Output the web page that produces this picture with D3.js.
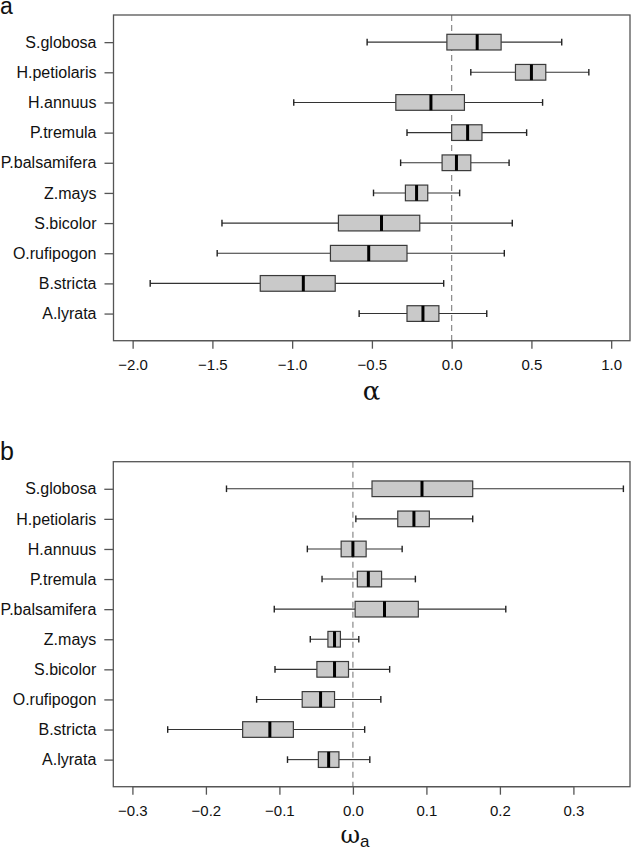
<!DOCTYPE html>
<html>
<head>
<meta charset="utf-8">
<script src="https://cdn.jsdelivr.net/npm/d3@7"></script>
<style>
  body { margin: 0; background: #fff; }
  svg { display: block; font-family: "Liberation Sans", Arial, sans-serif; }
</style>
</head>
<body>
<div id="canvas"></div>
<script>
// species, top to bottom
var species = ['S.globosa','H.petiolaris','H.annuus','P.tremula','P.balsamifera',
               'Z.mays','S.bicolor','O.rufipogon','B.stricta','A.lyrata'];

// panel a: alpha
var alphaLow  = [-0.53, 0.12, -0.99, -0.28, -0.32, -0.49, -1.44, -1.47, -1.89, -0.58];
var alphaQ1   = [-0.03, 0.40, -0.35,  0.00, -0.06, -0.29, -0.71, -0.76, -1.20, -0.28];
var alphaMed  = [ 0.16, 0.50, -0.13,  0.10,  0.03, -0.22, -0.44, -0.52, -0.93, -0.18];
var alphaQ3   = [ 0.31, 0.59,  0.08,  0.19,  0.12, -0.15, -0.20, -0.28, -0.73, -0.08];
var alphaHigh = [ 0.69, 0.86,  0.57,  0.47,  0.36,  0.05,  0.38,  0.33, -0.05,  0.22];
var alphaTicks = [-2.0, -1.5, -1.0, -0.5, 0.0, 0.5, 1.0];

// panel b: omega_a
var omegaLow  = [-0.172, 0.004, -0.062, -0.042, -0.107, -0.058, -0.106, -0.131, -0.252, -0.089];
var omegaQ1   = [ 0.026, 0.061, -0.016,  0.006,  0.003, -0.034, -0.049, -0.069, -0.150, -0.047];
var omegaMed  = [ 0.094, 0.083,  0.000,  0.021,  0.043, -0.025, -0.025, -0.044, -0.113, -0.033];
var omegaQ3   = [ 0.163, 0.104,  0.018,  0.039,  0.089, -0.017, -0.006, -0.025, -0.081, -0.019];
var omegaHigh = [ 0.368, 0.163,  0.067,  0.085,  0.208,  0.008,  0.050,  0.038,  0.016,  0.023];
var omegaTicks = [-0.3, -0.2, -0.1, 0.0, 0.1, 0.2, 0.3];

var W = 631, H = 853;
var svg = d3.select('#canvas').append('svg')
    .attr('width', W)
    .attr('height', H);

function drawPanel(cfg){
    var g = svg.append('g');
    var x = d3.scaleLinear().domain(cfg.domain).range([cfg.left, cfg.right]);
    var y = d3.scaleLinear().domain([0.1, 10.9]).range([cfg.bottom, cfg.top]);
    var step = y(1) - y(2);
    var boxH = step * 0.52, staple = step * 0.11;

    var rows = species.map(function(s, i){
        return {name: s, pos: 10 - i, lo: cfg.lo[i], q1: cfg.q1[i], med: cfg.med[i], q3: cfg.q3[i], hi: cfg.hi[i]};
    });

    // zero reference line
    g.append('line')
        .attr('x1', x(0)).attr('x2', x(0))
        .attr('y1', cfg.top).attr('y2', cfg.bottom)
        .attr('stroke', '#888').attr('stroke-width', 1.2)
        .attr('stroke-dasharray', '6,4');

    var b = g.selectAll('g.box').data(rows).enter()
        .append('g').attr('class', 'box')
        .attr('transform', function(d){ return 'translate(0,' + y(d.pos) + ')'; });

    // whiskers
    b.append('line')
        .attr('x1', function(d){ return x(d.lo); })
        .attr('x2', function(d){ return x(d.q1); })
        .attr('stroke', '#333').attr('stroke-width', 1.1);
    b.append('line')
        .attr('x1', function(d){ return x(d.q3); })
        .attr('x2', function(d){ return x(d.hi); })
        .attr('stroke', '#333').attr('stroke-width', 1.1);
    // staples
    ['lo','hi'].forEach(function(k){
        b.append('line')
            .attr('x1', function(d){ return x(d[k]); })
            .attr('x2', function(d){ return x(d[k]); })
            .attr('y1', -staple).attr('y2', staple)
            .attr('stroke', '#222').attr('stroke-width', 1.4);
    });
    // box
    b.append('rect')
        .attr('x', function(d){ return x(d.q1); })
        .attr('width', function(d){ return x(d.q3) - x(d.q1); })
        .attr('y', -boxH/2).attr('height', boxH)
        .attr('fill', '#c9c9c9').attr('stroke', '#3a3a3a').attr('stroke-width', 1.2);
    // median
    b.append('line')
        .attr('x1', function(d){ return x(d.med); })
        .attr('x2', function(d){ return x(d.med); })
        .attr('y1', -boxH/2).attr('y2', boxH/2)
        .attr('stroke', '#000').attr('stroke-width', 3);

    // frame
    g.append('rect')
        .attr('x', cfg.left).attr('y', cfg.top)
        .attr('width', cfg.right - cfg.left).attr('height', cfg.bottom - cfg.top)
        .attr('fill', 'none').attr('stroke', '#555').attr('stroke-width', 1.3);

    // x axis
    var xa = g.append('g')
        .attr('transform', 'translate(0,' + cfg.bottom + ')')
        .call(d3.axisBottom(x).tickValues(cfg.ticks).tickSize(8).tickPadding(11)
            .tickFormat(function(v){ return d3.format('.1f')(v).replace('-', '\u2212'); }));
    xa.select('.domain')
        .attr('d', 'M' + x(cfg.ticks[0]) + ',0H' + x(cfg.ticks[cfg.ticks.length-1]))
        .attr('stroke', '#555').attr('stroke-width', 1.3);
    xa.selectAll('.tick line').attr('stroke', '#555').attr('stroke-width', 1.3);
    xa.selectAll('.tick text').attr('font-size', 15).attr('fill', '#111')
        .attr('font-family', '"Liberation Sans", Arial, sans-serif');

    // y axis
    var ya = g.append('g')
        .attr('transform', 'translate(' + cfg.left + ',0)')
        .call(d3.axisLeft(y).tickValues(rows.map(function(d){ return d.pos; }))
            .tickSize(9).tickPadding(8)
            .tickFormat(function(v){ return species[10 - v]; }));
    ya.select('.domain').remove();
    ya.selectAll('.tick line').attr('stroke', '#555').attr('stroke-width', 1.3);
    ya.selectAll('.tick text').attr('font-size', 16).attr('fill', '#111')
        .attr('font-family', '"Liberation Sans", Arial, sans-serif');

    // panel letter
    g.append('text').attr('x', 0).attr('y', cfg.letterY)
        .attr('font-size', cfg.letterSize).attr('fill', '#111').text(cfg.letter);

    // axis title
    var t = g.append('text')
        .attr('x', cfg.titleX).attr('y', cfg.titleY)
        .attr('text-anchor', 'middle').attr('fill', '#111')
        .attr('font-family', '"DejaVu Serif", serif');
    t.append('tspan').attr('font-size', cfg.titleSize).text(cfg.title);
    if (cfg.sub) {
        t.append('tspan').attr('font-size', 17).attr('dy', 4)
            .attr('font-family', '"Liberation Sans", Arial, sans-serif').text(cfg.sub);
    }
}

drawPanel({
    domain: [-2.12, 1.118], ticks: alphaTicks,
    left: 113.5, right: 630, top: 15, bottom: 340.7,
    lo: alphaLow, q1: alphaQ1, med: alphaMed, q3: alphaQ3, hi: alphaHigh,
    letter: 'a', letterY: 13.5, letterSize: 23,
    title: '\u03b1', titleX: 371.5, titleY: 400, titleSize: 26
});

drawPanel({
    domain: [-0.326, 0.377], ticks: omegaTicks,
    left: 113.3, right: 630, top: 461.7, bottom: 786.7,
    lo: omegaLow, q1: omegaQ1, med: omegaMed, q3: omegaQ3, hi: omegaHigh,
    letter: 'b', letterY: 460, letterSize: 25,
    title: '\u03c9', sub: 'a', titleX: 355, titleY: 843, titleSize: 24
});
</script>
</body>
</html>
